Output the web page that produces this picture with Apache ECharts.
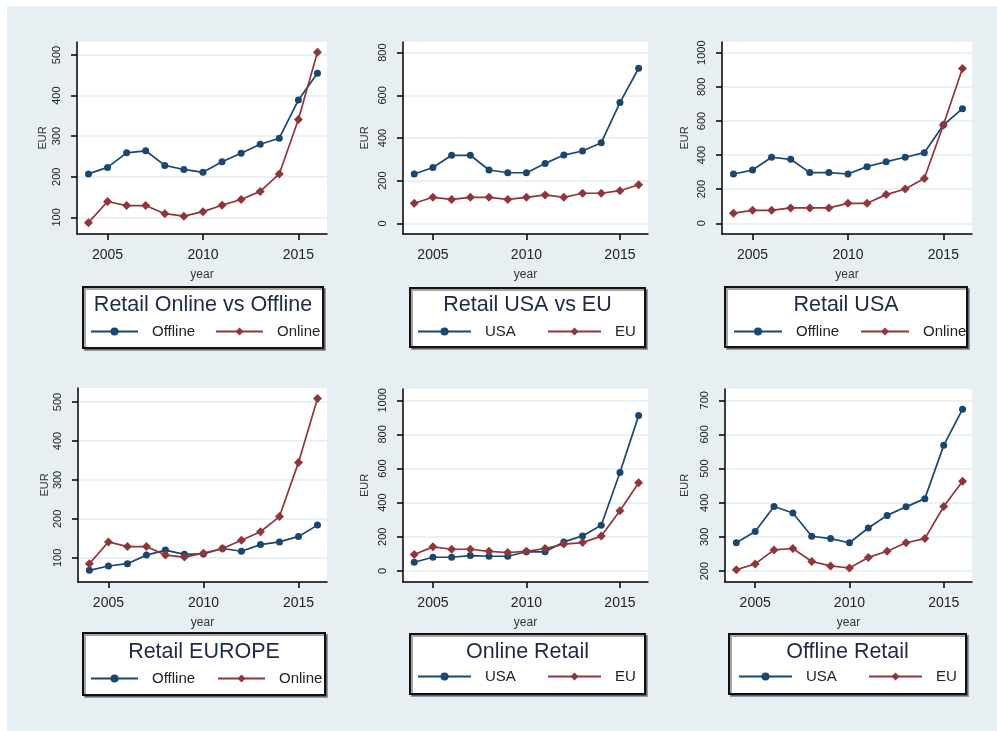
<!DOCTYPE html>
<html><head><meta charset="utf-8">
<script src="https://cdn.jsdelivr.net/npm/echarts@6/dist/echarts.min.js"></script>
<style>html,body{margin:0;padding:0;background:#fff}#c{width:997px;height:731px}</style>
</head><body><div id="c"></div>
<script>
// ---------------- DATA ----------------
const years = [2004,2005,2006,2007,2008,2009,2010,2011,2012,2013,2014,2015,2016];
const xTicks = [2005,2010,2015];

const p1Title = 'Retail Online vs Offline';
const p1Names = ['Offline','Online'];
const p1Offline = [207,223,259,264,228,218,211,237,258,280,295,389,455];
const p1Online  = [87,139,129,129,109,103,114,130,144,164,207,341,507];
const p1Ticks = [100,200,300,400,500];

const p2Title = 'Retail USA vs EU';
const p2Names = ['USA','EU'];
const p2USA = [231,262,319,319,250,237,237,281,320,339,378,566,727];
const p2EU  = [94,122,112,122,122,112,122,133,122,141,141,153,181];
const p2Ticks = [0,200,400,600,800];

const p3Title = 'Retail USA';
const p3Names = ['Offline','Online'];
const p3Offline = [289,312,387,375,297,297,289,332,361,387,414,576,672];
const p3Online  = [59,76,76,90,90,90,117,117,168,201,262,576,908];
const p3Ticks = [0,200,400,600,800,1000];

const p4Title = 'Retail EUROPE';
const p4Names = ['Offline','Online'];
const p4Offline = [68,79,85,107,120,109,110,124,117,134,141,155,184];
const p4Online  = [85,141,129,129,107,102,112,124,145,167,206,345,509];
const p4Ticks = [100,200,300,400,500];

const p5Title = 'Online Retail';
const p5Names = ['USA','EU'];
const p5USA = [51,80,80,90,86,86,112,112,170,205,268,577,910];
const p5EU  = [96,141,127,127,115,108,115,131,157,166,204,352,517];
const p5Ticks = [0,200,400,600,800,1000];

const p6Title = 'Offline Retail';
const p6Names = ['USA','EU'];
const p6USA = [283,316,389,370,302,295,283,326,363,388,412,568,674];
const p6EU  = [204,221,262,266,228,215,209,240,258,283,295,389,463];
const p6Ticks = [200,300,400,500,600,700];

// ---------------- LAYOUT / STYLE ----------------
const BLUE = '#1a476f', RED = '#90353b';
const FONT = 'Liberation Sans, Arial, sans-serif';
const panels = [
  {title:p1Title, names:p1Names, s:[p1Offline,p1Online], ticks:p1Ticks, yMin:59,  yMax:532,
   grid:{left:77,top:42,width:250,height:192}, nameGap:29, box:[83,287,240,61], titleY:305, itemY:333, lx:[90,215], iw:47},
  {title:p2Title, names:p2Names, s:[p2USA,p2EU], ticks:p2Ticks, yMin:-50, yMax:850,
   grid:{left:403,top:42,width:245,height:192}, nameGap:33, box:[410,288,235,59], titleY:305, itemY:333, lx:[417,547], iw:53},
  {title:p3Title, names:p3Names, s:[p3Offline,p3Online], ticks:p3Ticks, yMin:-63, yMax:1063,
   grid:{left:722,top:42,width:250,height:192}, nameGap:32, box:[725,287,242,60], titleY:305, itemY:333, lx:[733,860], iw:48},
  {title:p4Title, names:p4Names, s:[p4Offline,p4Online], ticks:p4Ticks, yMin:38, yMax:536,
   grid:{left:78,top:388,width:249,height:194}, nameGap:28, box:[83,633,242,62], titleY:652, itemY:680, lx:[90,217], iw:47},
  {title:p5Title, names:p5Names, s:[p5USA,p5EU], ticks:p5Ticks, yMin:-65, yMax:1066,
   grid:{left:403,top:389,width:245,height:193}, nameGap:33, box:[410,634,235,60], titleY:652, itemY:678, lx:[417,547], iw:53},
  {title:p6Title, names:p6Names, s:[p6USA,p6EU], ticks:p6Ticks, yMin:168, yMax:733,
   grid:{left:725,top:389,width:247,height:193}, nameGap:35, box:[729,634,237,60], titleY:652, itemY:678, lx:[738,868], iw:53}
];

const plain = v => String(v);
const grid=[], xAxis=[], yAxis=[], series=[], legend=[], graphic=[];
graphic.push({type:'rect', shape:{x:0,y:0,width:997,height:6}, style:{fill:'#fff'}, silent:true});
graphic.push({type:'rect', shape:{x:0,y:0,width:7,height:731}, style:{fill:'#fff'}, silent:true});

panels.forEach((p,i)=>{
  grid.push(Object.assign({show:true, backgroundColor:'#fff', borderWidth:0}, p.grid));
  xAxis.push({type:'value', gridIndex:i, min:2003.4, max:2016.5,
    name:'year', nameLocation:'middle', nameGap:35,
    nameTextStyle:{fontSize:12, color:'#333', fontFamily:FONT},
    axisLine:{show:true, onZero:false, lineStyle:{color:'#000', width:1.5}},
    axisTick:{show:true, customValues:xTicks, length:6, lineStyle:{color:'#000', width:1.5}},
    axisLabel:{show:true, customValues:xTicks, formatter:plain, fontSize:14, margin:14, color:'#222', fontFamily:FONT},
    splitLine:{show:false}});
  yAxis.push({type:'value', gridIndex:i, min:p.yMin, max:p.yMax,
    name:'EUR', nameLocation:'middle', nameGap:p.nameGap,
    nameTextStyle:{fontSize:11, color:'#333', fontFamily:FONT},
    axisLine:{show:true, onZero:false, lineStyle:{color:'#000', width:1.5}},
    axisTick:{show:true, customValues:p.ticks, length:6, lineStyle:{color:'#000', width:1.5}},
    axisLabel:{show:true, customValues:p.ticks, formatter:plain, rotate:90, fontSize:11, margin:15, color:'#222', fontFamily:FONT},
    splitLine:{show:true, lineStyle:{color:'#e3ebef', width:1.5}}});
  p.names.forEach((nm,k)=>{
    const col = k===0?BLUE:RED;
    series.push({type:'line', name:nm, xAxisIndex:i, yAxisIndex:i,
      data: years.map((y,j)=>[y, p.s[k][j]]),
      symbol: k===0?'circle':'diamond', symbolSize: k===0?7:9, showSymbol:true,
      lineStyle:{width:1.7, color:col}, itemStyle:{color:col},
      emphasis:{disabled:true}, animation:false, z:3});
    legend.push({show:true, data:[nm], left:p.lx[k], top:p.itemY-9, padding:0,
      itemWidth:p.iw, itemHeight:10, selectedMode:false,
      textStyle:{fontSize:15, color:'#222', fontFamily:FONT, padding:[0,0,0,9]}});
  });
  const b=p.box;
  graphic.push({type:'rect', shape:{x:b[0],y:b[1],width:b[2],height:b[3]},
    style:{fill:'#fff', stroke:'#111', lineWidth:2, shadowColor:'rgba(0,0,0,0.35)', shadowOffsetX:2, shadowOffsetY:2}, silent:true});
  graphic.push({type:'text', x:b[0]+b[2]/2, y:p.titleY,
    style:{text:p.title, fontSize:21.5, fontFamily:FONT, fill:'#1f2a48', align:'center', verticalAlign:'middle', textAlign:'center', textVerticalAlign:'middle'}, silent:true});
});

const chart = echarts.init(document.getElementById('c'), null, {renderer:'canvas'});
chart.setOption({
  backgroundColor:'#e8eff2',
  animation:false,
  textStyle:{fontFamily:FONT},
  grid, xAxis, yAxis, series, legend, graphic
});
</script></body></html>
